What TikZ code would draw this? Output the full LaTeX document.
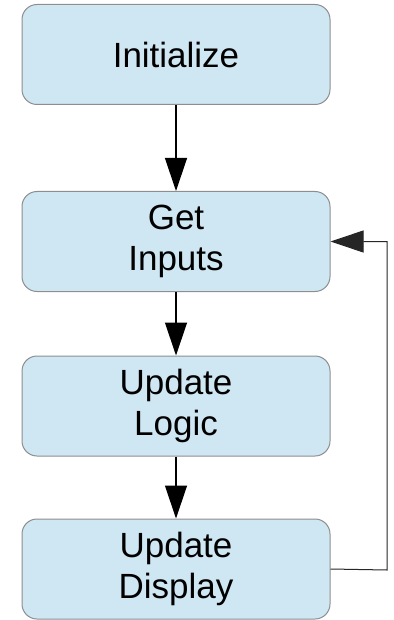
\documentclass[tikz,border=0pt]{standalone}
\usepackage{fontspec}
\setmainfont{Liberation Sans}
\usetikzlibrary{arrows.meta}
\definecolor{boxfill}{HTML}{CFE6F3}
\definecolor{boxline}{HTML}{8E8E8E}
\begin{document}
\begin{tikzpicture}[x=1pt,y=1pt,
  stepbox/.style={draw=boxline, line width=1pt, fill=boxfill, rounded corners=15pt,
    minimum width=308pt, minimum height=100pt, align=center, inner sep=0pt,
    font=\fontsize{35}{41}\selectfont},
  flow/.style={draw=black, line width=1.3pt, -{Triangle[width=22pt,length=33pt]}},
  loop/.style={draw=black!85, line width=1pt, -{Triangle[width=22pt,length=33pt]}}]
\useasboundingbox (0,0) rectangle (393,-620);
\node[stepbox] (init) at (176,-54.5) {Initialize};
\node[stepbox] (inputs) at (176,-241.5) {Get\\Inputs};
\node[stepbox] (logic) at (176,-406) {Update\\Logic};
\node[stepbox] (display) at (176,-569) {Update\\Display};
\coordinate (c1) at (387,-570);
\coordinate (c2) at (387,-241.5);
\draw[flow] (init.south) -- (inputs.north);
\draw[flow] (inputs.south) -- (logic.north);
\draw[flow] (logic.south) -- (display.north);
\draw[loop] (display.east) -- (c1) -- (c2) -- (inputs.east);
\end{tikzpicture}
\end{document}
